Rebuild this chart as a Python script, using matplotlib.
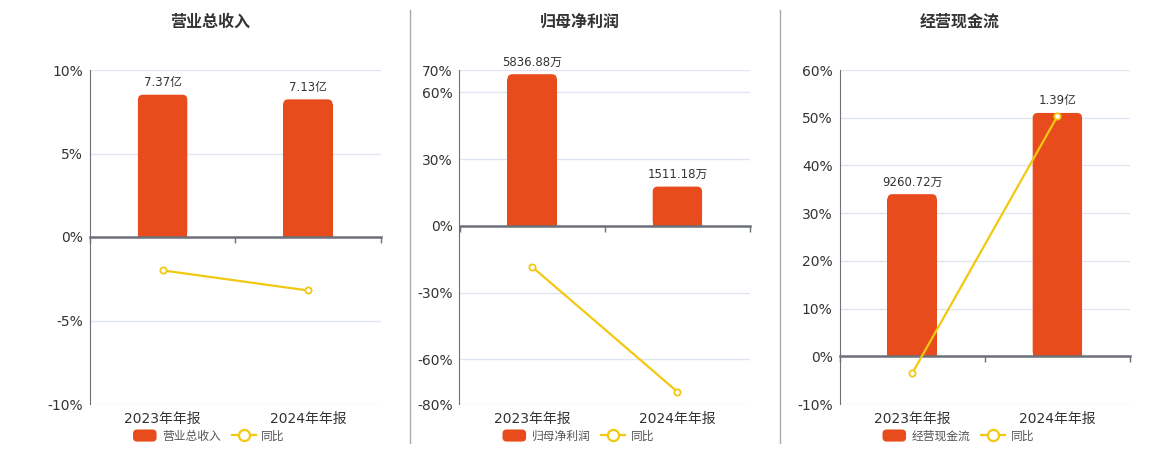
import matplotlib.pyplot as plt
from matplotlib.patches import FancyBboxPatch, Rectangle
from matplotlib.lines import Line2D
from matplotlib.legend_handler import HandlerPatch
import numpy as np

plt.rcParams['font.family'] = ['DejaVu Sans', 'Noto Sans CJK SC']

# ---------------------------------------------------------------------------
# data
# ---------------------------------------------------------------------------
periods = ['2023年年报', '2024年年报']
titles = ['营业总收入', '归母净利润', '经营现金流']

revenue = [7.37e8, 7.13e8]
net_profit = [5836.88e4, 1511.18e4]
cash_flow = [9260.72e4, 1.39e8]

revenue_labels = ['7.37亿', '7.13亿']
net_profit_labels = ['5836.88万', '1511.18万']
cash_flow_labels = ['9260.72万', '1.39亿']

revenue_yoy = [-2.0, -3.2]
net_profit_yoy = [-18.4, -74.5]
cash_flow_yoy = [-3.6, 50.3]

revenue_ticks = [-10, -5, 0, 5, 10]
net_profit_ticks = [-80, -60, -30, 0, 30, 60, 70]
cash_flow_ticks = [-10, 0, 10, 20, 30, 40, 50, 60]

# ---------------------------------------------------------------------------
# style
# ---------------------------------------------------------------------------
BAR = '#E84C1D'
LINE = '#F2C811'
GRID = '#E0E6F1'
AXIS = '#6E7079'
TEXT = '#333333'

W, H = 1160, 450
AX_LEFT = [90, 459.5, 839.5]      # px
AX_W, AX_BOTTOM, AX_H = 290.5, 46, 334
BAR_FILL = [0.852, 0.973, 0.85]   # tallest bar top as share of upper axis range
BAR_W = 0.34
RADIUS_PX = 5

panels = [
    (revenue, revenue_labels, revenue_yoy, revenue_ticks),
    (net_profit, net_profit_labels, net_profit_yoy, net_profit_ticks),
    (cash_flow, cash_flow_labels, cash_flow_yoy, cash_flow_ticks),
]


class RoundPatchHandler(HandlerPatch):
    def create_artists(self, legend, orig_handle, xdescent, ydescent,
                       width, height, fontsize, trans):
        p = FancyBboxPatch((-xdescent, -ydescent), width, height,
                           boxstyle='round,pad=0,rounding_size=3',
                           fc=BAR, ec='none', transform=trans)
        return [p]


fig = plt.figure(figsize=(W / 100, H / 100), dpi=100)

x = np.arange(len(periods))
for i, (vals, labels, yoy, ticks) in enumerate(panels):
    rect = [AX_LEFT[i] / W, AX_BOTTOM / H, AX_W / W, AX_H / H]
    ax = fig.add_axes(rect)
    lo, hi = ticks[0], ticks[-1]
    ax.set_xlim(-0.5, 1.5)
    ax.set_ylim(lo, hi)
    ax.set_yticks(ticks)
    ax.set_yticklabels([f'{t}%' for t in ticks])
    ax.set_xticks(x)
    ax.set_xticklabels(periods)
    ax.tick_params(axis='y', length=0, pad=5, labelsize=10, labelcolor=TEXT)
    ax.tick_params(axis='x', length=0, pad=6, labelsize=10, labelcolor=TEXT)
    ax.grid(axis='y', color=GRID, lw=1)
    ax.set_axisbelow(True)
    for s in ['top', 'right', 'bottom']:
        ax.spines[s].set_visible(False)
    ax.spines['left'].set_color(AXIS)

    # bars on their own scale, zero aligned with 0%
    ax2 = ax.twinx()
    scale = max(vals) / (BAR_FILL[i] * hi)
    ax2.set_ylim(lo * scale, hi * scale)
    ax2.set_axis_off()
    bars = ax2.bar(x, vals, BAR_W, color=BAR)
    rx = RADIUS_PX * 2 / AX_W
    ry = RADIUS_PX * (hi - lo) * scale / AX_H
    for b in bars:
        b.set_visible(False)
        bx, bw, bh = b.get_x(), b.get_width(), b.get_height()
        ax2.add_patch(FancyBboxPatch((bx, 0), bw, bh,
                                     boxstyle=f'round,pad=0,rounding_size={rx}',
                                     mutation_aspect=ry / rx, fc=BAR, ec='none'))
        ax2.add_patch(Rectangle((bx, 0), bw, bh - ry, fc=BAR, ec='none'))
    ax2.bar_label(bars, labels=labels, padding=4, fontsize=8.5, color=TEXT)

    # yoy line on top
    ax3 = ax.twinx()
    ax3.set_ylim(lo, hi)
    ax3.set_axis_off()
    ax3.plot(x, yoy, color=LINE, lw=1.6, marker='o', ms=4.5,
             mfc='white', mec=LINE, mew=1.3, zorder=5)

    zero = ax3.secondary_xaxis(0, transform=ax3.transData)
    zero.set_alignment('bottom')
    zero.set_xticks([-0.5, 0.5, 1.5])
    zero.set_xticklabels([])
    zero.tick_params(length=4, color=AXIS, width=1)
    zero.spines['bottom'].set_color(AXIS)
    zero.spines['bottom'].set_linewidth(1.8)

    # title
    fig.text((AX_LEFT[i] + 120) / W, 1 - 22 / H, titles[i], ha='center',
             va='center', fontsize=11.5, fontweight='bold', color=TEXT)

    # legend
    h_bar = Rectangle((0, 0), 1, 1, fc=BAR, label=titles[i])
    h_line = Line2D([], [], color=LINE, lw=1.6, marker='o', ms=8,
                    mfc='white', mec=LINE, mew=1.6, label='同比')
    ax3.legend(handles=[h_bar, h_line], loc='center left',
               bbox_to_anchor=(43 / AX_W, -32 / AX_H), ncol=2, frameon=False,
               fontsize=8.5, labelcolor='#555555', borderpad=0,
               borderaxespad=0, handlelength=2, handleheight=1.2,
               handletextpad=0.5, columnspacing=0.9,
               handler_map={Rectangle: RoundPatchHandler()})

# panel separators
for sx in [410, 780]:
    fig.add_artist(Line2D([sx / W, sx / W], [1 - 10 / H, 1 - 443 / H],
                          color='#AAAAAA', lw=1, transform=fig.transFigure))

fig.savefig('out.png', dpi=100)
